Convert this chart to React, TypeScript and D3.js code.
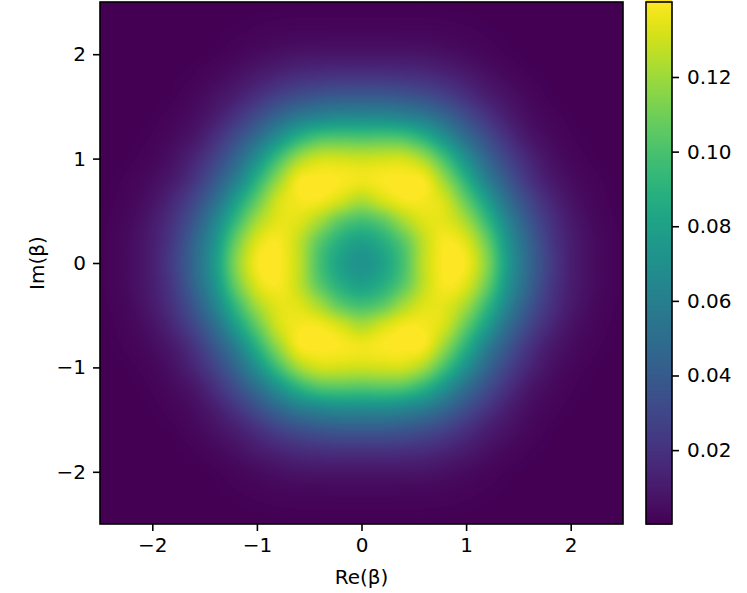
import React, { useRef, useEffect } from 'react';
import * as d3 from 'd3';

const axisTicks = [-2, -1, 0, 1, 2];
const colorTicks = [0.02, 0.04, 0.06, 0.08, 0.1, 0.12];
const colorDomain = [0.0002, 0.1401];
const extent = [-2.5, 2.5];
const gridStep = 0.2;

// Q values, upper right quadrant only.
// Rows are y = 0, 0.2 ... 2.6, columns are x = 0, 0.2 ... 2.6. The other quadrants mirror it.
const quadrant = [
  [0.072, 0.08, 0.099, 0.127, 0.14, 0.138, 0.114, 0.076, 0.047, 0.026, 0.012, 0.005, 0.002, 0.0005],
  [0.079, 0.087, 0.104, 0.127, 0.139, 0.133, 0.108, 0.072, 0.045, 0.024, 0.0115, 0.005, 0.002, 0.0005],
  [0.098, 0.105, 0.121, 0.133, 0.134, 0.121, 0.094, 0.063, 0.038, 0.021, 0.01, 0.004, 0.0015, 0.0004],
  [0.123, 0.131, 0.138, 0.138, 0.13, 0.106, 0.078, 0.05, 0.03, 0.016, 0.007, 0.003, 0.001, 0.0003],
  [0.137, 0.139, 0.14, 0.138, 0.117, 0.089, 0.06, 0.038, 0.021, 0.01, 0.0046, 0.002, 0.0007, 0.0002],
  [0.129, 0.13, 0.13, 0.12, 0.097, 0.07, 0.046, 0.028, 0.015, 0.0065, 0.0027, 0.001, 0.0003, 0.0002],
  [0.101, 0.102, 0.1, 0.089, 0.07, 0.05, 0.033, 0.019, 0.0085, 0.004, 0.0015, 0.0006, 0.0003, 0.0002],
  [0.066, 0.066, 0.063, 0.057, 0.046, 0.033, 0.021, 0.011, 0.005, 0.0022, 0.0008, 0.0004, 0.0002, 0.0002],
  [0.039, 0.039, 0.037, 0.033, 0.027, 0.019, 0.0115, 0.0065, 0.003, 0.001, 0.0005, 0.0003, 0.0002, 0.0002],
  [0.02, 0.02, 0.019, 0.0175, 0.014, 0.01, 0.006, 0.0032, 0.0013, 0.0006, 0.0003, 0.0002, 0.0002, 0.0002],
  [0.008, 0.008, 0.008, 0.0075, 0.006, 0.0042, 0.0025, 0.0011, 0.0005, 0.0003, 0.0002, 0.0002, 0.0002, 0.0002],
  [0.003, 0.003, 0.0029, 0.0028, 0.0025, 0.0018, 0.0011, 0.0006, 0.0003, 0.0002, 0.0002, 0.0002, 0.0002, 0.0002],
  [0.001, 0.001, 0.001, 0.001, 0.0009, 0.0007, 0.0005, 0.0003, 0.0002, 0.0002, 0.0002, 0.0002, 0.0002, 0.0002],
  [0.0003, 0.0003, 0.0003, 0.0003, 0.0003, 0.0002, 0.0002, 0.0002, 0.0002, 0.0002, 0.0002, 0.0002, 0.0002, 0.0002],
];

const width = 747;
const height = 593;
const plot = { left: 100, right: 623, top: 2, bottom: 524 };
const bar = { left: 646, right: 672 };
const fontSize = 20;
const stroke = 1.6;
const font = '"DejaVu Sans", sans-serif';

const cubic = (a: number, b: number, c: number, d: number, t: number) =>
  b + 0.5 * t * (c - a + t * (2 * a - 5 * b + 4 * c - d + t * (3 * (b - c) + d - a)));

// value at a data position, like imshow with bicubic interpolation
const sample = (x: number, y: number) => {
  const gx = Math.abs(x) / gridStep;
  const gy = Math.abs(y) / gridStep;
  const i = Math.min(Math.floor(gx), quadrant.length - 1);
  const j = Math.min(Math.floor(gy), quadrant.length - 1);
  const at = (r: number, c: number) => {
    const rr = Math.abs(r);
    const cc = Math.abs(c);
    return quadrant[Math.min(rr, quadrant.length - 1)][Math.min(cc, quadrant.length - 1)];
  };
  const rows = [-1, 0, 1, 2].map(dr =>
    cubic(at(j + dr, i - 1), at(j + dr, i), at(j + dr, i + 1), at(j + dr, i + 2), gx - i)
  );
  return cubic(rows[0], rows[1], rows[2], rows[3], gy - j);
};

const App = () => {
  const svgRef = useRef<SVGSVGElement>(null);

  useEffect(() => {
    const svg = d3.select(svgRef.current);
    svg.selectAll('*').remove();

    const xScale = d3.scaleLinear().domain(extent).range([plot.left, plot.right]);
    const yScale = d3.scaleLinear().domain(extent).range([plot.bottom, plot.top]);
    const valueScale = d3.scaleLinear().domain(colorDomain).range([0, 1]).clamp(true);
    const barScale = d3.scaleLinear().domain(colorDomain).range([plot.bottom, plot.top]);
    const color = (v: number) => d3.rgb(d3.interpolateViridis(valueScale(v)));

    // heatmap
    const w = plot.right - plot.left;
    const h = plot.bottom - plot.top;
    const canvas = document.createElement('canvas');
    canvas.width = w;
    canvas.height = h;
    const ctx = canvas.getContext('2d')!;
    const img = ctx.createImageData(w, h);
    for (let py = 0; py < h; py++) {
      const dy = yScale.invert(plot.top + py + 0.5);
      for (let px = 0; px < w; px++) {
        const dx = xScale.invert(plot.left + px + 0.5);
        const c = color(sample(dx, dy));
        const k = (py * w + px) * 4;
        img.data[k] = c.r;
        img.data[k + 1] = c.g;
        img.data[k + 2] = c.b;
        img.data[k + 3] = 255;
      }
    }
    ctx.putImageData(img, 0, 0);
    svg.append('image')
      .attr('x', plot.left).attr('y', plot.top)
      .attr('width', w).attr('height', h)
      .attr('href', canvas.toDataURL());

    // colorbar
    const levels = d3.range(0, 256).map(i => colorDomain[0] + (colorDomain[1] - colorDomain[0]) * i / 255);
    svg.append('g').selectAll('rect').data(levels).enter().append('rect')
      .attr('x', bar.left)
      .attr('width', bar.right - bar.left)
      .attr('y', d => barScale(d) - h / 256 - 0.5)
      .attr('height', h / 256 + 1)
      .attr('fill', d => d3.interpolateViridis(valueScale(d)));

    const styleAxis = (g: any) => {
      g.select('.domain').remove();
      g.selectAll('.tick line').attr('stroke', '#000').attr('stroke-width', stroke);
      g.selectAll('.tick text').attr('fill', '#000').style('font-family', font).style('font-size', `${fontSize}px`);
    };
    const fmt = d3.format('d');

    svg.append('g').attr('transform', `translate(0,${plot.bottom})`)
      .call(d3.axisBottom(xScale).tickValues(axisTicks).tickFormat(fmt as any).tickSize(7).tickPadding(7))
      .call(styleAxis);
    svg.append('g').attr('transform', `translate(${plot.left},0)`)
      .call(d3.axisLeft(yScale).tickValues(axisTicks).tickFormat(fmt as any).tickSize(7).tickPadding(7))
      .call(styleAxis);
    svg.append('g').attr('transform', `translate(${bar.right},0)`)
      .call(d3.axisRight(barScale).tickValues(colorTicks).tickFormat(d3.format('.2f') as any).tickSize(7).tickPadding(8))
      .call(styleAxis);

    // frames
    [[plot.left, plot.right], [bar.left, bar.right]].forEach(([x0, x1]) => {
      svg.append('rect')
        .attr('x', x0).attr('y', plot.top)
        .attr('width', x1 - x0).attr('height', h)
        .attr('fill', 'none').attr('stroke', '#000').attr('stroke-width', stroke);
    });

    // axis titles
    svg.append('text')
      .attr('x', (plot.left + plot.right) / 2).attr('y', 584)
      .attr('text-anchor', 'middle')
      .style('font-family', font).style('font-size', `${fontSize}px`)
      .text('Re(β)');
    svg.append('text')
      .attr('transform', `translate(44,${(plot.top + plot.bottom) / 2}) rotate(-90)`)
      .attr('text-anchor', 'middle')
      .style('font-family', font).style('font-size', `${fontSize}px`)
      .text('Im(β)');
  }, []);

  return (
    <svg
      ref={svgRef}
      width={width}
      height={height}
      style={{ position: 'absolute', left: 0, top: 0, background: '#fff' }}
    />
  );
};

export default App;
